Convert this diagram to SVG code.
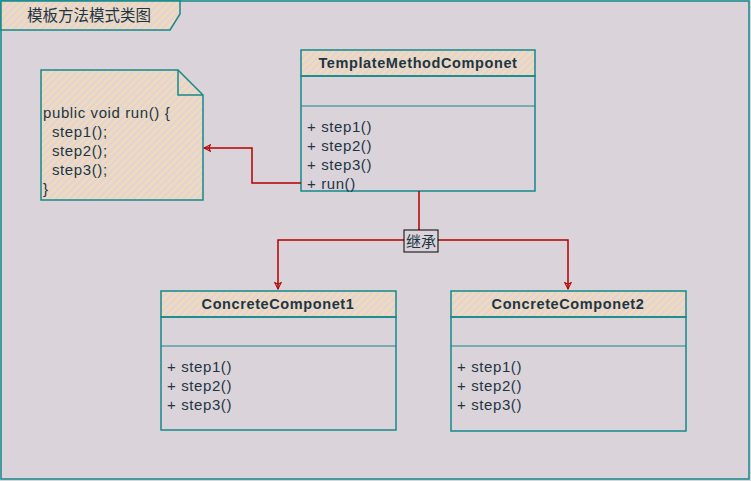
<svg xmlns="http://www.w3.org/2000/svg" width="751" height="481" viewBox="0 0 751 481">
<defs>
<pattern id="hatch" width="5" height="5" patternUnits="userSpaceOnUse" patternTransform="rotate(45)">
<rect width="5" height="5" fill="#e0d4d4"/>
<line x1="2.5" y1="0" x2="2.5" y2="5" stroke="#f5dcb6" stroke-width="2.2"/>
</pattern>
<marker id="arr" viewBox="0 0 10 10" refX="9" refY="5" markerWidth="8" markerHeight="8" orient="auto-start-reverse" markerUnits="userSpaceOnUse">
<path d="M1,1 L9,5 L1,9 L3,5 Z" fill="none" stroke="#b20000" stroke-width="1.3"/>
</marker>
<style>
.box{fill:none;stroke:#15898a;stroke-width:1.5}
.hdr{fill:url(#hatch);stroke:#15898a;stroke-width:1.5}
.t{font-family:"Comic Sans MS","Liberation Sans",sans-serif;font-size:15px;letter-spacing:0.6px;fill:#1d3644}
.b{font-weight:bold;text-anchor:middle;font-size:14.5px}
.edge{fill:none;stroke:#b20000;stroke-width:1.5}
.cjk{font-family:"Noto Sans CJK SC",sans-serif;fill:#1d3644}
</style>
</defs>
<rect x="0" y="0" width="751" height="481" fill="#dbd3da"/>
<g id="frame">
<rect x="1" y="1" width="748" height="478" fill="none" stroke="#15898a" stroke-width="1.5"/>
<path d="M1,1 L180,1 L180,14 L170,30 L1,30 Z" class="hdr"/>
<text x="27" y="21" class="cjk" style="font-size:15.5px">模板方法模式类图</text>
</g>
<g id="note">
<path d="M41,70 L178,70 L203,95 L203,200 L41,200 Z" class="hdr"/>
<path d="M178,70 L178,95 L203,95" class="box"/>
<text class="t" x="43" y="118">public void run() {</text>
<text class="t" x="52" y="137">step1();</text>
<text class="t" x="52" y="156">step2();</text>
<text class="t" x="52" y="175">step3();</text>
<text class="t" x="43" y="194">}</text>
</g>
<g id="template">
<rect x="301" y="50" width="234" height="26" class="hdr"/>
<rect x="301" y="76" width="234" height="115" class="box"/>
<line x1="301" y1="106" x2="535" y2="106" stroke="#15898a" stroke-width="1.2"/>
<text class="t b" x="418" y="68">TemplateMethodComponet</text>
<text class="t" x="307" y="132">+ step1()</text>
<text class="t" x="307" y="151">+ step2()</text>
<text class="t" x="307" y="170">+ step3()</text>
<text class="t" x="307" y="189">+ run()</text>
</g>
<g id="concrete1">
<rect x="161" y="291" width="235" height="26" class="hdr"/>
<rect x="161" y="317" width="235" height="113" class="box"/>
<line x1="161" y1="346" x2="396" y2="346" stroke="#15898a" stroke-width="1.2"/>
<text class="t b" x="278" y="309">ConcreteComponet1</text>
<text class="t" x="167" y="372">+ step1()</text>
<text class="t" x="167" y="391">+ step2()</text>
<text class="t" x="167" y="410">+ step3()</text>
</g>
<g id="concrete2">
<rect x="451" y="291" width="235" height="26" class="hdr"/>
<rect x="451" y="317" width="235" height="114" class="box"/>
<line x1="451" y1="346" x2="686" y2="346" stroke="#15898a" stroke-width="1.2"/>
<text class="t b" x="568" y="309">ConcreteComponet2</text>
<text class="t" x="457" y="372">+ step1()</text>
<text class="t" x="457" y="391">+ step2()</text>
<text class="t" x="457" y="410">+ step3()</text>
</g>
<g id="connectors">
<path d="M301,183 L252,183 L252,148 L204,148" class="edge" marker-end="url(#arr)"/>
<path d="M419,191 L419,240 L278,240 L278,289" class="edge" marker-end="url(#arr)"/>
<path d="M419,240 L568,240 L568,289" class="edge" marker-end="url(#arr)"/>
<rect x="404" y="230" width="34" height="22" fill="#dbd3da" stroke="#000" stroke-width="1"/>
<text x="421" y="247" text-anchor="middle" class="cjk" style="font-size:15px">继承</text>
</g>
</svg>
